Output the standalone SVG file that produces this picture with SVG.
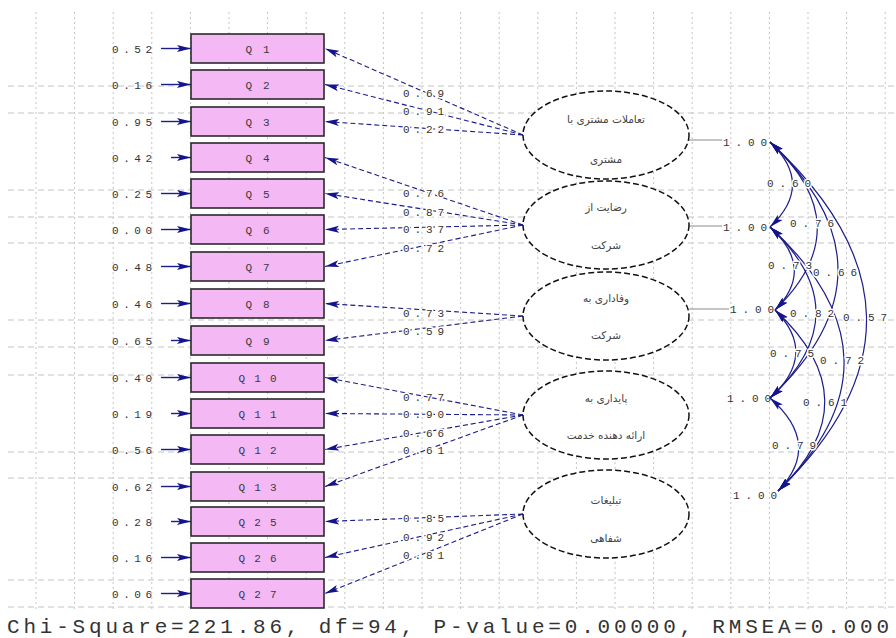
<svg xmlns="http://www.w3.org/2000/svg" width="896" height="638" viewBox="0 0 896 638">
<style>
.bg{fill:#ffffff}
.gv{stroke:#c4c4c4;stroke-width:1;stroke-dasharray:2,3;fill:none}
.gh{stroke:#c4c4c4;stroke-width:1;stroke-dasharray:6,4;fill:none}
.box{fill:#f4b8f4;stroke:#2a2a2a;stroke-width:1.6}
.bl{font-family:"Liberation Mono",monospace;font-size:11px;fill:#3a3a3a;text-anchor:middle}
.num{font-family:"Liberation Mono",monospace;font-size:11px;fill:#333333}
.halo{paint-order:stroke;stroke:#ffffff;stroke-width:3px;stroke-linejoin:round}
.ld{stroke:#1c1c8c;stroke-width:1.1;stroke-dasharray:5,3;fill:none}
.er{stroke:#1c1c8c;stroke-width:1.4;fill:none}
.cv{stroke:#1c1c8c;stroke-width:1.2;fill:none}
.vl{stroke:#8a8a8a;stroke-width:1;fill:none}
.ell{fill:#ffffff;stroke:#111111;stroke-width:1.5;stroke-dasharray:6,3}
.fa{font-family:"DejaVu Sans","Noto Sans",sans-serif;font-size:10.5px;fill:#444444;text-anchor:middle}
.foot{font-family:"Liberation Mono",monospace;font-size:21px;fill:#333333}
</style>
<defs>
<marker id="ah" viewBox="0 0 14 8" refX="14" refY="4" markerWidth="14" markerHeight="8" markerUnits="userSpaceOnUse" orient="auto-start-reverse">
<path d="M0,0.5 L14,4 L0,7.5 L3,4 z" fill="#14148c"/>
</marker>
</defs>
<rect class="bg" x="0" y="0" width="896" height="638"/>
<g id="grid">
<path class="gv" d="M36 12V612M74.6 12V612M113.2 12V612M151.8 12V612M190.4 12V612M229 12V612M267.6 12V612M306.2 12V612M344.8 12V612M383.4 12V612M422 12V612M460.6 12V612M499.2 12V612M537.8 12V612M576.4 12V612M615 12V612M653.6 12V612M692.2 12V612M730.8 12V612M769.4 12V612M808 12V612M846.6 12V612M885.2 12V612"/>
<path class="gh" d="M8 86H896M8 113H896M8 190H896M8 217H896M8 243H896M8 320H896M8 347H896M8 375H896M8 452H896M8 478H896M8 580H896M8 607H896"/>
</g>
<g id="connectors">
<g id="errors">
<line class="er" x1="161" y1="48.5" x2="191" y2="48.5" marker-end="url(#ah)"/>
<line class="er" x1="161" y1="84.5" x2="191" y2="84.5" marker-end="url(#ah)"/>
<line class="er" x1="161" y1="121.5" x2="191" y2="121.5" marker-end="url(#ah)"/>
<line class="er" x1="171" y1="157.5" x2="191" y2="157.5" marker-end="url(#ah)"/>
<line class="er" x1="161" y1="193.5" x2="191" y2="193.5" marker-end="url(#ah)"/>
<line class="er" x1="161" y1="229.5" x2="191" y2="229.5" marker-end="url(#ah)"/>
<line class="er" x1="161" y1="266.5" x2="191" y2="266.5" marker-end="url(#ah)"/>
<line class="er" x1="161" y1="303.5" x2="191" y2="303.5" marker-end="url(#ah)"/>
<line class="er" x1="171" y1="340.5" x2="191" y2="340.5" marker-end="url(#ah)"/>
<line class="er" x1="161" y1="377.5" x2="191" y2="377.5" marker-end="url(#ah)"/>
<line class="er" x1="171" y1="413.5" x2="191" y2="413.5" marker-end="url(#ah)"/>
<line class="er" x1="161" y1="449.5" x2="191" y2="449.5" marker-end="url(#ah)"/>
<line class="er" x1="161" y1="486.5" x2="191" y2="486.5" marker-end="url(#ah)"/>
<line class="er" x1="171" y1="521.5" x2="191" y2="521.5" marker-end="url(#ah)"/>
<line class="er" x1="161" y1="557.5" x2="191" y2="557.5" marker-end="url(#ah)"/>
<line class="er" x1="161" y1="593.5" x2="191" y2="593.5" marker-end="url(#ah)"/>
<g class="num">
<text x="112" y="52.5" textLength="40">0.52</text>
<text x="112" y="88.5" textLength="40">0.16</text>
<text x="112" y="125.5" textLength="40">0.95</text>
<text x="112" y="161.5" textLength="40">0.42</text>
<text x="112" y="197.5" textLength="40">0.25</text>
<text x="112" y="233.5" textLength="40">0.00</text>
<text x="112" y="270.5" textLength="40">0.48</text>
<text x="112" y="307.5" textLength="40">0.46</text>
<text x="112" y="344.5" textLength="40">0.65</text>
<text x="112" y="381.5" textLength="40">0.40</text>
<text x="112" y="417.5" textLength="40">0.19</text>
<text x="112" y="453.5" textLength="40">0.56</text>
<text x="112" y="490.5" textLength="40">0.62</text>
<text x="112" y="525.5" textLength="40">0.28</text>
<text x="112" y="561.5" textLength="40">0.16</text>
<text x="112" y="597.5" textLength="40">0.06</text>
</g>
</g>
<g id="loadings">
<line class="ld" x1="523" y1="135" x2="325" y2="48.5" marker-end="url(#ah)"/>
<line class="ld" x1="523" y1="135" x2="325" y2="84.5" marker-end="url(#ah)"/>
<line class="ld" x1="523" y1="135" x2="325" y2="121.5" marker-end="url(#ah)"/>
<line class="ld" x1="523" y1="225" x2="325" y2="157.5" marker-end="url(#ah)"/>
<line class="ld" x1="523" y1="225" x2="325" y2="193.5" marker-end="url(#ah)"/>
<line class="ld" x1="523" y1="225" x2="325" y2="229.5" marker-end="url(#ah)"/>
<line class="ld" x1="523" y1="225" x2="325" y2="266.5" marker-end="url(#ah)"/>
<line class="ld" x1="523" y1="316" x2="325" y2="303.5" marker-end="url(#ah)"/>
<line class="ld" x1="523" y1="316" x2="325" y2="340.5" marker-end="url(#ah)"/>
<line class="ld" x1="523" y1="415" x2="325" y2="377.5" marker-end="url(#ah)"/>
<line class="ld" x1="523" y1="415" x2="325" y2="413.5" marker-end="url(#ah)"/>
<line class="ld" x1="523" y1="415" x2="325" y2="449.5" marker-end="url(#ah)"/>
<line class="ld" x1="523" y1="415" x2="325" y2="486.5" marker-end="url(#ah)"/>
<line class="ld" x1="523" y1="514" x2="325" y2="521.5" marker-end="url(#ah)"/>
<line class="ld" x1="523" y1="514" x2="325" y2="557.5" marker-end="url(#ah)"/>
<line class="ld" x1="523" y1="514" x2="325" y2="593.5" marker-end="url(#ah)"/>
<g class="num halo">
<text x="403" y="97" textLength="41">0.69</text>
<text x="403" y="115" textLength="41">0.91</text>
<text x="403" y="133" textLength="41">0.22</text>
<text x="403" y="197" textLength="41">0.76</text>
<text x="403" y="216" textLength="41">0.87</text>
<text x="403" y="233" textLength="41">0.37</text>
<text x="403" y="252" textLength="41">0.72</text>
<text x="403" y="317" textLength="41">0.73</text>
<text x="403" y="335" textLength="41">0.59</text>
<text x="403" y="401" textLength="41">0.77</text>
<text x="403" y="418" textLength="41">0.90</text>
<text x="403" y="437" textLength="41">0.66</text>
<text x="403" y="454" textLength="41">0.61</text>
<text x="403" y="522" textLength="41">0.85</text>
<text x="403" y="541" textLength="41">0.92</text>
<text x="403" y="559" textLength="41">0.81</text>
</g>
</g>
<g id="variances">
<line class="vl" x1="689" y1="140" x2="722" y2="140"/>
<line class="vl" x1="689" y1="226" x2="722" y2="226"/>
<line class="vl" x1="689" y1="309" x2="729" y2="309"/>
<g class="num">
<text x="723" y="146" textLength="44">1.00</text>
<text x="723" y="231" textLength="44">1.00</text>
<text x="730" y="313" textLength="44">1.00</text>
<text x="727" y="402" textLength="44">1.00</text>
<text x="733" y="499" textLength="44">1.00</text>
</g>
</g>
<g id="covariances">
<path class="cv" d="M770 142 Q815 184.5 770 227" marker-start="url(#ah)" marker-end="url(#ah)"/>
<path class="cv" d="M770 227 Q816 268.5 775 310" marker-start="url(#ah)" marker-end="url(#ah)"/>
<path class="cv" d="M775 310 Q819 354 770 398" marker-start="url(#ah)" marker-end="url(#ah)"/>
<path class="cv" d="M770 398 Q823 444.5 778 491" marker-start="url(#ah)" marker-end="url(#ah)"/>
<path class="cv" d="M770 142 Q862 226 775 310" marker-start="url(#ah)" marker-end="url(#ah)"/>
<path class="cv" d="M770 227 Q862 312.5 770 398" marker-start="url(#ah)" marker-end="url(#ah)"/>
<path class="cv" d="M775 310 Q873 400.5 778 491" marker-start="url(#ah)" marker-end="url(#ah)"/>
<path class="cv" d="M770 142 Q906 270 770 398" marker-start="url(#ah)" marker-end="url(#ah)"/>
<path class="cv" d="M770 227 Q914 359 778 491" marker-start="url(#ah)" marker-end="url(#ah)"/>
<path class="cv" d="M770 142 Q959 316.5 778 491" marker-start="url(#ah)" marker-end="url(#ah)"/>
<g class="num halo">
<text x="767" y="187" textLength="44">0.60</text>
<text x="768" y="269" textLength="44">0.73</text>
<text x="770" y="357" textLength="44">0.75</text>
<text x="772" y="449" textLength="44">0.79</text>
<text x="790" y="227" textLength="44">0.76</text>
<text x="790" y="317" textLength="44">0.82</text>
<text x="803" y="406" textLength="44">0.61</text>
<text x="813" y="276" textLength="44">0.66</text>
<text x="820" y="364" textLength="44">0.72</text>
<text x="843" y="321" textLength="44">0.57</text>
</g>
</g>
</g>
<g id="Q1"><rect class="box" x="191" y="34" width="133" height="29"/><text class="bl" x="257.5" y="52.5" textLength="24">Q1</text></g>
<g id="Q2"><rect class="box" x="191" y="70" width="133" height="29"/><text class="bl" x="257.5" y="88.5" textLength="24">Q2</text></g>
<g id="Q3"><rect class="box" x="191" y="107" width="133" height="29"/><text class="bl" x="257.5" y="125.5" textLength="24">Q3</text></g>
<g id="Q4"><rect class="box" x="191" y="143" width="133" height="29"/><text class="bl" x="257.5" y="161.5" textLength="24">Q4</text></g>
<g id="Q5"><rect class="box" x="191" y="179" width="133" height="29"/><text class="bl" x="257.5" y="197.5" textLength="24">Q5</text></g>
<g id="Q6"><rect class="box" x="191" y="215" width="133" height="29"/><text class="bl" x="257.5" y="233.5" textLength="24">Q6</text></g>
<g id="Q7"><rect class="box" x="191" y="252" width="133" height="29"/><text class="bl" x="257.5" y="270.5" textLength="24">Q7</text></g>
<g id="Q8"><rect class="box" x="191" y="289" width="133" height="29"/><text class="bl" x="257.5" y="307.5" textLength="24">Q8</text></g>
<g id="Q9"><rect class="box" x="191" y="326" width="133" height="29"/><text class="bl" x="257.5" y="344.5" textLength="24">Q9</text></g>
<g id="Q10"><rect class="box" x="191" y="363" width="133" height="29"/><text class="bl" x="257.5" y="381.5" textLength="38">Q10</text></g>
<g id="Q11"><rect class="box" x="191" y="399" width="133" height="29"/><text class="bl" x="257.5" y="417.5" textLength="38">Q11</text></g>
<g id="Q12"><rect class="box" x="191" y="435" width="133" height="29"/><text class="bl" x="257.5" y="453.5" textLength="38">Q12</text></g>
<g id="Q13"><rect class="box" x="191" y="472" width="133" height="29"/><text class="bl" x="257.5" y="490.5" textLength="38">Q13</text></g>
<g id="Q25"><rect class="box" x="191" y="507" width="133" height="29"/><text class="bl" x="257.5" y="525.5" textLength="38">Q25</text></g>
<g id="Q26"><rect class="box" x="191" y="543" width="133" height="29"/><text class="bl" x="257.5" y="561.5" textLength="38">Q26</text></g>
<g id="Q27"><rect class="box" x="191" y="579" width="133" height="29"/><text class="bl" x="257.5" y="597.5" textLength="38">Q27</text></g>
<g id="F1"><ellipse class="ell" cx="606" cy="135" rx="83" ry="44"/><text class="fa" x="606" y="123">تعاملات مشتری با</text><text class="fa" x="606" y="163">مشتری</text></g>
<g id="F2"><ellipse class="ell" cx="606" cy="225" rx="83" ry="44"/><text class="fa" x="606" y="211">رضایت از</text><text class="fa" x="606" y="249">شرکت</text></g>
<g id="F3"><ellipse class="ell" cx="606" cy="316" rx="83" ry="44"/><text class="fa" x="606" y="302">وفاداری به</text><text class="fa" x="606" y="339">شرکت</text></g>
<g id="F4"><ellipse class="ell" cx="606" cy="415" rx="83" ry="44"/><text class="fa" x="606" y="402">پایداری به</text><text class="fa" x="606" y="439">ارائه دهنده خدمت</text></g>
<g id="F5"><ellipse class="ell" cx="606" cy="514" rx="83" ry="44"/><text class="fa" x="606" y="504">تبلیغات</text><text class="fa" x="606" y="542">شفاهی</text></g>
<text class="foot" x="7" y="633" textLength="882">Chi-Square=221.86, df=94, P-value=0.00000, RMSEA=0.000</text>
</svg>
